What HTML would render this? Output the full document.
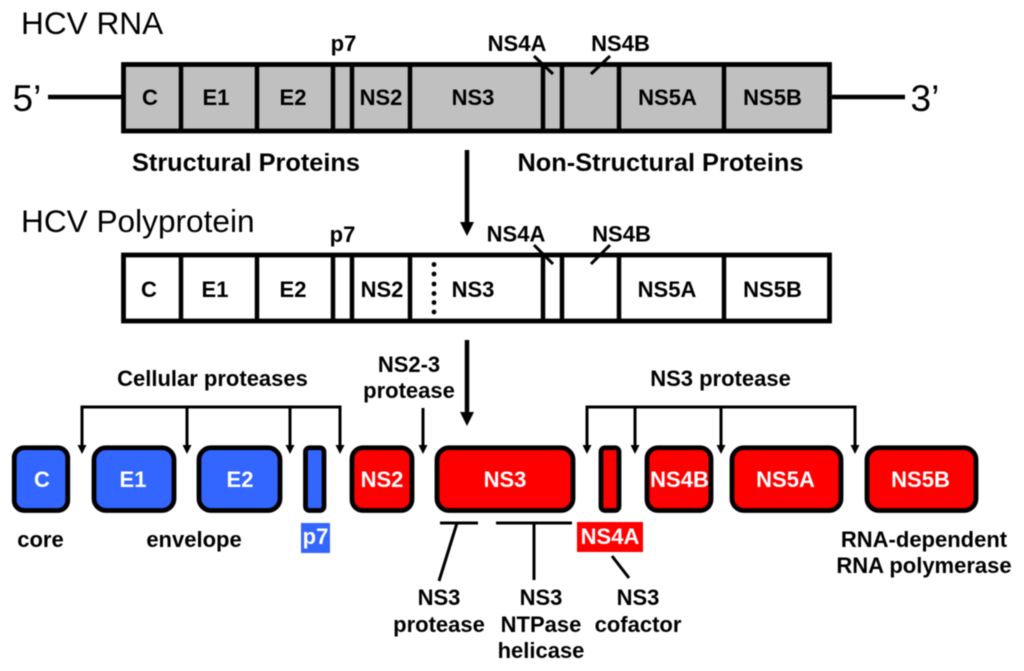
<!DOCTYPE html>
<html>
<head>
<meta charset="utf-8">
<style>
html,body{margin:0;padding:0;background:#fff;width:1024px;height:671px;overflow:hidden}
svg{display:block;filter:blur(0.45px)}
text{font-family:"Liberation Sans",Arial,sans-serif;fill:#000}
.b{font-weight:bold;font-size:22px;text-anchor:middle}
.s{font-weight:bold;font-size:25px;text-anchor:middle}
.w{fill:#fff}
.r{font-size:31.600px}
.l{stroke:#000;fill:none}
.box{stroke:#000;stroke-width:4.800}
</style>
</head>
<body>
<svg width="1024" height="671" viewBox="0 0 1024 671" xmlns="http://www.w3.org/2000/svg">
<text class="r" x="21" y="34">HCV RNA</text>
<text class="r" x="21" y="232">HCV Polyprotein</text>
<text x="12.500" y="111" style="font-size:37px">5’</text>
<text x="910.500" y="111" style="font-size:37px">3’</text>

<path class="l" stroke-width="4.500" d="M48 97H122M832 97H905"/>

<!-- RNA bar -->
<rect x="123.500" y="64.500" width="706" height="66.500" fill="#c0c0c0" class="box"/>
<path class="l" stroke-width="4.500" d="M181 64V131M257 64V131M333 64V131M352 64V131M410 64V131M543 64V131M562 64V131M619 64V131M724 64V131"/>
<path class="l" stroke-width="3" d="M534 56L553 74M610 56L591 74"/>

<text class="b" x="343.500" y="51">p7</text>
<text class="b" x="517" y="51">NS4A</text>
<text class="b" x="620.500" y="51">NS4B</text>
<text class="b" x="150" y="105">C</text>
<text class="b" x="216" y="105">E1</text>
<text class="b" x="293" y="105">E2</text>
<text class="b" x="381" y="105">NS2</text>
<text class="b" x="473" y="105">NS3</text>
<text class="b" x="667.500" y="105">NS5A</text>
<text class="b" x="772.500" y="105">NS5B</text>

<text class="s" x="246" y="171" textLength="228" lengthAdjust="spacingAndGlyphs">Structural Proteins</text>
<text class="s" x="660.500" y="171" textLength="286" lengthAdjust="spacingAndGlyphs">Non-Structural Proteins</text>

<!-- Arrow 1 -->
<path class="l" stroke-width="4.500" d="M467 150V224"/>
<path d="M460 222H474L467 236Z"/>

<!-- Polyprotein bar -->
<rect x="123.500" y="255" width="706" height="66" fill="#fff" class="box"/>
<path class="l" stroke-width="4.500" d="M181 254V322M257 254V322M333 254V322M352 254V322M410 254V322M543 254V322M562 254V322M619 254V322M724 254V322"/>
<path class="l" stroke-width="3" d="M534 245L553 264M610 245L591 264"/>
<g>
<circle cx="434" cy="264.500" r="2.400"/><circle cx="434" cy="274" r="2.400"/><circle cx="434" cy="284" r="2.400"/><circle cx="434" cy="293.500" r="2.400"/><circle cx="434" cy="302.500" r="2.400"/><circle cx="434" cy="312" r="2.400"/>
</g>
<text class="b" x="342.500" y="242">p7</text>
<text class="b" x="516" y="241.500">NS4A</text>
<text class="b" x="621.500" y="241.500">NS4B</text>
<text class="b" x="149" y="297">C</text>
<text class="b" x="215" y="297">E1</text>
<text class="b" x="293" y="297">E2</text>
<text class="b" x="382" y="297">NS2</text>
<text class="b" x="473" y="297">NS3</text>
<text class="b" x="667" y="297">NS5A</text>
<text class="b" x="772.500" y="297">NS5B</text>

<!-- Arrow 2 -->
<path class="l" stroke-width="4.500" d="M467 340V414"/>
<path d="M460 412H474L467 426Z"/>

<!-- Brackets -->
<path class="l" stroke-width="3" d="M82 446V407H340V446M187 407V446M290 407V446M423 408V446M587 446V407H855V446M635 407V446M721 407V446"/>
<path d="M77.500 445H86.500L82 454ZM182.500 445H191.500L187 454ZM285.500 445H294.500L290 454ZM335.500 445H344.500L340 454ZM418.500 445H427.500L423 454ZM582.500 445H591.500L587 454ZM630.500 445H639.500L635 454ZM716.500 445H725.500L721 454ZM850.500 445H859.500L855 454Z"/>

<text class="b" x="212.500" y="386">Cellular proteases</text>
<text class="b" x="720.500" y="386">NS3 protease</text>
<text class="b" x="409" y="372">NS2-3</text>
<text class="b" x="409" y="398">protease</text>

<!-- Protein boxes -->
<g class="box">
<rect x="14.250" y="447.750" width="53.500" height="62.750" rx="10" fill="#3366ff"/>
<rect x="94" y="447.750" width="80" height="62.750" rx="12" fill="#3366ff"/>
<rect x="199" y="447.750" width="81" height="62.750" rx="12" fill="#3366ff"/>
<rect x="305.500" y="447.750" width="18.500" height="62.750" rx="4" fill="#3366ff"/>
<rect x="352" y="447.750" width="60" height="62.750" rx="11" fill="#ff0000"/>
<rect x="437" y="447.750" width="136" height="62.750" rx="12" fill="#ff0000"/>
<rect x="601" y="447.750" width="18" height="62.750" rx="4" fill="#ff0000"/>
<rect x="647" y="447.750" width="64" height="62.750" rx="11" fill="#ff0000"/>
<rect x="732" y="447.750" width="109" height="62.750" rx="12" fill="#ff0000"/>
<rect x="867" y="447.750" width="109" height="62.750" rx="12" fill="#ff0000"/>
</g>
<text class="b w" x="42" y="487">C</text>
<text class="b w" x="133" y="487">E1</text>
<text class="b w" x="240" y="487">E2</text>
<text class="b w" x="382" y="487">NS2</text>
<text class="b w" x="505" y="487">NS3</text>
<text class="b w" x="679.500" y="487">NS4B</text>
<text class="b w" x="785.500" y="487">NS5A</text>
<text class="b w" x="920.500" y="487">NS5B</text>

<!-- Under labels -->
<rect x="301" y="523" width="29" height="30" fill="#3366ff"/>
<text class="b w" x="315.500" y="544">p7</text>
<rect x="577" y="522" width="66" height="30" fill="#ff0000"/>
<text class="b w" x="610" y="544">NS4A</text>

<text class="b" x="40.500" y="547">core</text>
<text class="b" x="194" y="547">envelope</text>
<text class="b" x="924" y="547">RNA-dependent</text>
<text class="b" x="924" y="573">RNA polymerase</text>

<path class="l" stroke-width="3" d="M440 523H478M496 523H572M457 523L439 581M534 523V580M612 556L629 578"/>

<text class="b" x="439" y="605">NS3</text>
<text class="b" x="439" y="632">protease</text>
<text class="b" x="541" y="605">NS3</text>
<text class="b" x="541" y="632">NTPase</text>
<text class="b" x="541" y="658">helicase</text>
<text class="b" x="638" y="605">NS3</text>
<text class="b" x="638" y="632">cofactor</text>
</svg>
</body>
</html>
